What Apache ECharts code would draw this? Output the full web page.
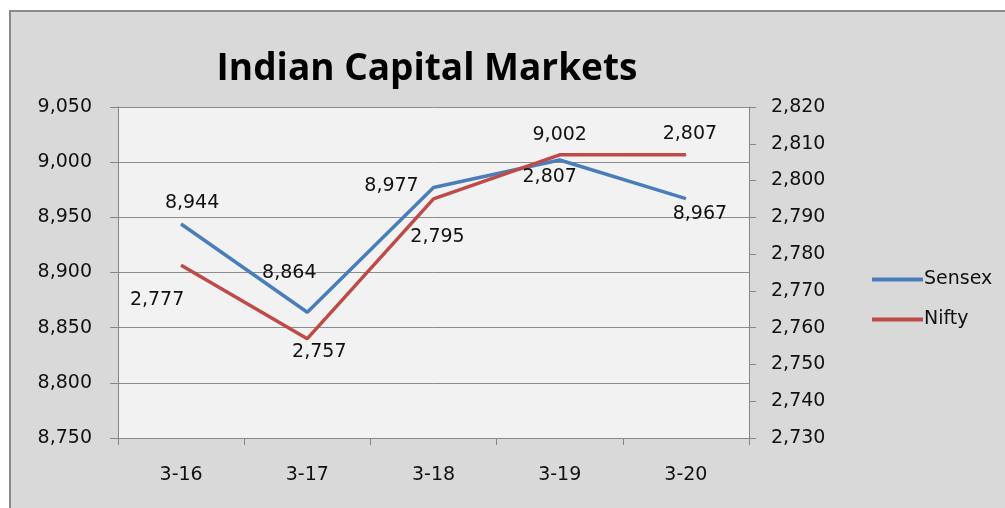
<!DOCTYPE html>
<html>
<head>
<meta charset="utf-8">
<script src="https://cdn.jsdelivr.net/npm/echarts@6/dist/echarts.min.js"></script>
<style>
	body { margin: 0; background: #fff; }
	#frame { position: absolute; left: 9px; top: 10px; width: 1000px; height: 500px;
		background: #d9d9d9; border-left: 2px solid #8a8a8a; border-top: 2px solid #8a8a8a; }
	#main { position: absolute; left: 0; top: 0; width: 1005px; height: 508px; }
</style>
</head>
<body>
<div id="frame"></div>
<div id="main"></div>
<script>
var categories = ['3-16', '3-17', '3-18', '3-19', '3-20'];
var sensex = [8944, 8864, 8977, 9002, 8967];
var nifty = [2777, 2757, 2795, 2807, 2807];
var leftTicks = { min: 8750, max: 9050, interval: 50 };
var rightTicks = { min: 2730, max: 2820, interval: 10 };

// label nudges, as placed in the original
var sensexLabelShift = [[11, -21], [-18, -39], [-42, -1], [0, -25], [14, 15]];
var niftyLabelShift = [[-24, 35], [12, 13], [4, 38], [-10, 22], [4, -21]];

var titleFont = '"Open Sans", "Noto Sans", sans-serif';
var fontFam = '"DejaVu Sans", sans-serif';
var txtSize = 19;

function withLabels(values, shifts) {
	return values.map(function(v, i) {
		return { value: v, label: { offset: shifts[i] } };
	});
}

function fmt(v) {
	return String(v).replace(/\B(?=(\d{3})+(?!\d))/g, ',');
}

var chart = echarts.init(document.getElementById('main'), null, { renderer: 'canvas' });
var option = {
	backgroundColor: 'transparent',
	animation: false,
	title: {
		text: 'Indian Capital Markets',
		left: 422,
		textAlign: 'center',
		top: 46,
		textStyle: { fontFamily: titleFont, fontWeight: 'bold', fontSize: 37, color: '#000' }
	},
	legend: {
		orient: 'vertical',
		left: 867,
		top: 265,
		itemWidth: 51,
		itemHeight: 4,
		itemGap: 21,
		icon: 'rect',
		data: ['Sensex', 'Nifty'],
		textStyle: { fontFamily: fontFam, fontSize: txtSize, color: '#111', padding: [0, 0, 0, -4] }
	},
	grid: {
		left: 118, right: 256, top: 107, bottom: 70,
		show: true, backgroundColor: '#f2f2f2', borderWidth: 0
	},
	xAxis: {
		type: 'category',
		data: categories,
		boundaryGap: true,
		axisLine: { lineStyle: { color: '#868686', width: 1 } },
		axisTick: { show: true, length: 7, lineStyle: { color: '#868686' } },
		axisLabel: { margin: 28, fontFamily: fontFam, fontSize: txtSize, color: '#111' }
	},
	yAxis: [{
		type: 'value',
		min: leftTicks.min, max: leftTicks.max, interval: leftTicks.interval,
		axisLine: { show: true, lineStyle: { color: '#868686' } },
		axisTick: { show: true, length: 8, lineStyle: { color: '#868686' } },
		splitLine: { show: true, lineStyle: { color: '#8c8c8c', width: 1 } },
		axisLabel: { margin: 26, fontFamily: fontFam, fontSize: txtSize, color: '#111', formatter: fmt }
	}, {
		type: 'value',
		position: 'right',
		min: rightTicks.min, max: rightTicks.max, interval: rightTicks.interval,
		axisLine: { show: true, lineStyle: { color: '#868686' } },
		axisTick: { show: true, length: 7, lineStyle: { color: '#868686' } },
		splitLine: { show: false },
		axisLabel: { margin: 22, fontFamily: fontFam, fontSize: txtSize, color: '#111', formatter: fmt }
	}],
	series: [{
		name: 'Sensex',
		type: 'line',
		yAxisIndex: 0,
		data: withLabels(sensex, sensexLabelShift),
		color: '#4a7ebb',
		symbol: 'circle',
		symbolSize: 1,
		lineStyle: { width: 3.5, color: '#4a7ebb' },
		label: {
			show: true, position: 'inside',
			fontFamily: fontFam, fontSize: txtSize, color: '#111',
			formatter: function(p) { return fmt(p.value); }
		}
	}, {
		name: 'Nifty',
		type: 'line',
		yAxisIndex: 1,
		data: withLabels(nifty, niftyLabelShift),
		color: '#be4b48',
		symbol: 'circle',
		symbolSize: 1,
		lineStyle: { width: 3.5, color: '#be4b48' },
		label: {
			show: true, position: 'inside',
			fontFamily: fontFam, fontSize: txtSize, color: '#111',
			formatter: function(p) { return fmt(p.value); }
		}
	}]
};
chart.setOption(option);
</script>
</body>
</html>
